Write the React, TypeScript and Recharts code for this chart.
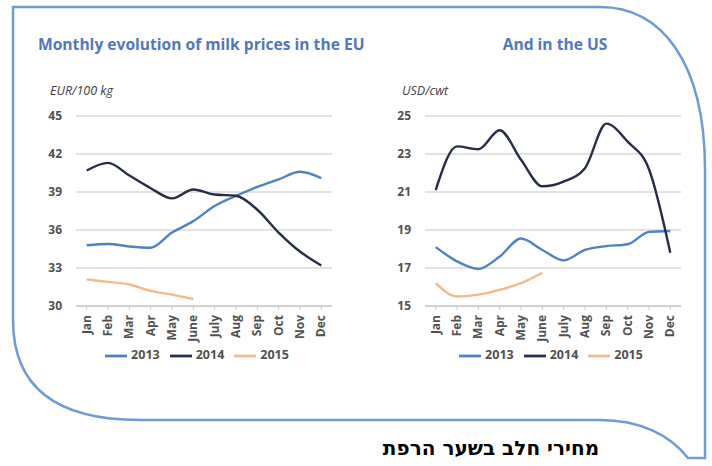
import React from "react";
import { LineChart, Line, XAxis, YAxis, CartesianGrid, Legend } from "recharts";

const months = ["Jan", "Feb", "Mar", "Apr", "May", "June", "July", "Aug", "Sep", "Oct", "Nov", "Dec"];
const seriesNames = ["2013", "2014", "2015"];
const seriesColors = ["#4d82c4", "#262d48", "#f5b888"];

const eu2013 = [34.8, 34.9, 34.7, 34.6, 35.8, 36.7, 37.9, 38.7, 39.4, 40.0, 40.6, 40.1];
const eu2014 = [40.7, 41.3, 40.3, 39.3, 38.5, 39.2, 38.8, 38.7, 37.6, 35.8, 34.3, 33.2];
const eu2015 = [32.1, 31.9, 31.7, 31.2, 30.9, 30.55];
const euTicks = [30, 33, 36, 39, 42, 45];

const us2013 = [18.1, 17.35, 16.95, 17.6, 18.55, 17.95, 17.4, 17.95, 18.15, 18.25, 18.9, 18.95];
const us2014 = [21.1, 23.4, 23.25, 24.25, 22.7, 21.3, 21.55, 22.25, 24.6, 23.65, 22.2, 17.8];
const us2015 = [16.2, 15.5, 15.6, 15.85, 16.2, 16.75];
const usTicks = [15, 17, 19, 21, 23, 25];

const FONT = "'Open Sans', Lato, sans-serif";

function buildRows(a: number[], b: number[], c: number[]) {
  return months.map((m, i) => ({ month: m, s2013: a[i], s2014: b[i], s2015: c[i] }));
}

const euRows = buildRows(eu2013, eu2014, eu2015);
const usRows = buildRows(us2013, us2014, us2015);

const MonthTick = (props: any) => {
  const { x, y, payload } = props;
  return (
    <g transform={`translate(${x},${y})`}>
      <text
        transform="rotate(-90)"
        x={-3}
        y={4}
        textAnchor="end"
        fontSize={12}
        fontWeight={700}
        fill="#505050"
        fontFamily={FONT}
      >
        {payload.value}
      </text>
    </g>
  );
};

function MilkChart({ rows, ticks, legendLeft }: { rows: any[]; ticks: number[]; legendLeft: number }) {
  return (
    <LineChart width={345} height={380} data={rows} margin={{ top: 116, right: 13, left: 0, bottom: 8 }}>
      <CartesianGrid vertical={false} stroke="#d9d9d9" strokeWidth={1.5} />
      <XAxis
        dataKey="month"
        interval={0}
        height={46}
        padding={{ left: 10.7, right: 10.7 }}
        axisLine={{ stroke: "#c8c8c8", strokeWidth: 1.5 }}
        tickLine={{ stroke: "#c8c8c8" }}
        tickSize={4}
        tickMargin={2}
        tick={<MonthTick />}
      />
      <YAxis
        width={76}
        domain={[ticks[0], ticks[ticks.length - 1]]}
        ticks={ticks}
        axisLine={false}
        tickLine={false}
        tickSize={0}
        tickMargin={14}
        tick={{ fontSize: 12, fontWeight: 700, fill: "#505050", fontFamily: FONT }}
      />
      <Legend
        height={20}
        iconType="plainline"
        iconSize={22}
        wrapperStyle={{ top: 345, left: legendLeft, fontFamily: FONT, fontSize: 12.5 }}
        formatter={(v: any) => <span style={{ color: "#505050", fontWeight: 700 }}>{v}</span>}
      />
      {["s2013", "s2014", "s2015"].map((k, i) => (
        <Line
          key={k}
          dataKey={k}
          name={seriesNames[i]}
          type="monotone"
          stroke={seriesColors[i]}
          strokeWidth={2.4}
          dot={false}
          activeDot={false}
          isAnimationActive={false}
        />
      ))}
    </LineChart>
  );
}

export default function App() {
  return (
    <div
      style={{
        position: "absolute",
        left: 0,
        top: 0,
        width: 712,
        height: 466,
        background: "#ffffff",
        overflow: "hidden",
        fontFamily: FONT,
      }}
    >
      <svg width={712} height={466} style={{ position: "absolute", left: 0, top: 0 }}>
        <path
          d="M 13 7 L 600 7 C 660 7, 705 60, 705 170 L 705 458 L 688 458 C 670 435, 640 420, 600 420 L 140 420 C 60 420, 13 390, 13 320 Z"
          fill="none"
          stroke="#6d9bd6"
          strokeWidth={2.5}
        />
        <text x={38} y={50} fontSize={15.6} fontWeight={700} fill="#4f78ba" fontFamily={FONT}>
          Monthly evolution of milk prices in the EU
        </text>
        <text x={555} y={50} textAnchor="middle" fontSize={15.6} fontWeight={700} fill="#4f78ba" fontFamily={FONT}>
          And in the US
        </text>
        <text x={50} y={95} fontSize={12.5} fontStyle="italic" fill="#404040" fontFamily={FONT}>
          EUR/100 kg
        </text>
        <text x={402} y={95} fontSize={12.5} fontStyle="italic" fill="#404040" fontFamily={FONT}>
          USD/cwt
        </text>
        <text
          x={491}
          y={455}
          textAnchor="middle"
          fontSize={20}
          fontWeight={700}
          fill="#000000"
          fontFamily="'DejaVu Sans', 'Liberation Sans', sans-serif"
          direction="rtl"
        >
          מחירי חלב בשער הרפת
        </text>
      </svg>
      <div style={{ position: "absolute", left: 0, top: 0 }}>
        <MilkChart rows={euRows} ticks={euTicks} legendLeft={36} />
      </div>
      <div style={{ position: "absolute", left: 349, top: 0 }}>
        <MilkChart rows={usRows} ticks={usTicks} legendLeft={41} />
      </div>
    </div>
  );
}
